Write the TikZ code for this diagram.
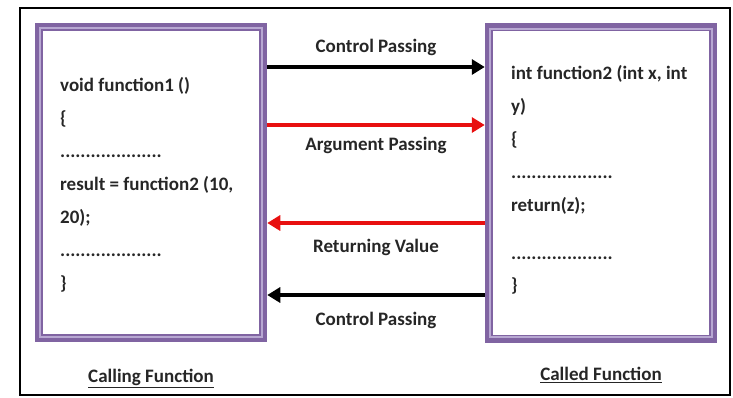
\documentclass[tikz,border=0pt]{standalone}
\usepackage{fontspec}
\setmainfont{Carlito}
\usetikzlibrary{arrows.meta,positioning}
\definecolor{fnpurple}{RGB}{128,100,162}
\definecolor{fnlilac}{RGB}{184,168,210}
\definecolor{fnred}{RGB}{232,16,16}
\definecolor{fntext}{RGB}{38,38,38}

\begin{document}
\begin{tikzpicture}[x=1pt,y=-1pt,
  fnbox/.style={draw=fnpurple, line width=4.5pt, minimum width=228pt, minimum height=315pt, inner sep=0pt},
  code/.style={font=\fontsize{19}{33}\selectfont\bfseries, text=fntext, align=left, anchor=north west, inner sep=0pt},
  passlabel/.style={font=\fontsize{19}{22}\selectfont\bfseries, text=fntext, inner sep=0pt, text height=14pt, text depth=4pt},
  pass/.style={line width=4.5pt, -{Triangle[length=13pt,width=15pt]}}]
  \useasboundingbox (0,0) rectangle (733,397);
  \draw[black, line width=1.8pt] (20,8) rectangle (730,395);
  % the two function boxes
  \node[fnbox] (calling) at (151,182.5) {};
  \node[fnbox] (called) at (601,183) {};
  \foreach \b in {calling,called}{
    \draw[fnlilac, line width=2.2pt] ([shift={(5.6,5.6)}]\b.north west) rectangle ([shift={(-5.6,-5.6)}]\b.south east);
    \draw[fnpurple, line width=1.4pt] ([shift={(7.4,7.4)}]\b.north west) rectangle ([shift={(-7.4,-7.4)}]\b.south east);
  }
  \node[code] (callcode) at (60,77) {void function1 ()\\ \{\\ ....................\\ result = function2 (10,\\ 20);\\ ....................\\ \}};
  \node[code] (calledcode) at (511,65) {int function2 (int x, int\\ y)\\ \{\\ ....................\\ return(z);\\[15pt] ....................\\[-1pt] \}};
  % passing arrows
  \draw[pass, black] (calling.east |- 0,67) -- node[passlabel, above=8pt] (ctrlin) {Control Passing} (called.west |- 0,67);
  \draw[pass, fnred] (calling.east |- 0,125) -- node[passlabel, below=9pt] (argin) {Argument Passing} (called.west |- 0,125);
  \draw[pass, fnred] (called.west |- 0,223) -- node[passlabel, below=13pt] (retout) {Returning Value} (calling.east |- 0,223);
  \draw[pass, black] (called.west |- 0,295) -- node[passlabel, below=14pt] (ctrlout) {Control Passing} (calling.east |- 0,295);
  % captions
  \node[passlabel, below=26pt of calling.south] (callingcap) {\underline{Calling Function}};
  \node[passlabel, below=24pt of called.south] (calledcap) {\underline{Called Function}};
\end{tikzpicture}
\end{document}
